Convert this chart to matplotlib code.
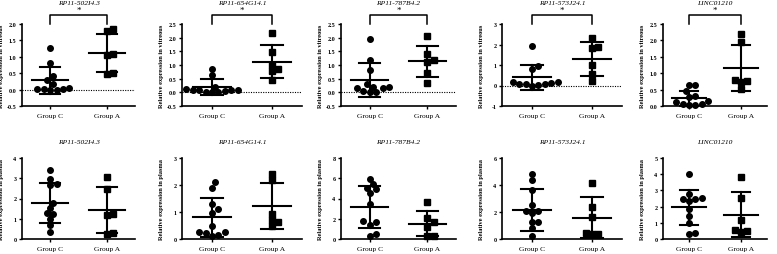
import numpy as np
import matplotlib
matplotlib.use("Agg")
import matplotlib.pyplot as plt

plt.rcParams['font.family'] = ['Liberation Serif', 'DejaVu Serif']

genes = ["RP11-502I4.3", "RP11-654G14.1", "RP11-787B4.2", "RP11-573J24.1", "LINC01210"]
groups = ["Group C", "Group A"]

# vitreous (top row)
vit_c = [
    [1.28, 0.8, 0.4, 0.3, 0.17, 0.03, 0.02, 0.0, 0.0, 0.02, 0.05],
    [0.85, 0.62, 0.2, 0.1, 0.08, 0.05, 0.02, 0.0, 0.0, 0.07, 0.1, 0.12],
    [1.95, 1.2, 0.82, 0.32, 0.2, 0.15, 0.15, 0.05, 0.02, 0.0, 0.18],
    [1.95, 0.95, 0.82, 0.15, 0.08, 0.05, 0.02, 0.0, 0.05, 0.1, 0.18],
    [0.65, 0.65, 0.45, 0.32, 0.28, 0.15, 0.12, 0.05, 0.03, 0.02, 0.05],
]
vit_a = [
    [1.85, 1.8, 1.08, 1.07, 0.5, 0.47],
    [2.17, 1.48, 1.0, 0.87, 0.78, 0.45],
    [2.05, 1.4, 1.2, 1.1, 0.7, 0.35],
    [2.3, 1.9, 1.85, 1.0, 0.55, 0.22],
    [2.2, 1.95, 0.78, 0.75, 0.73, 0.53],
]
vit_c_mean = [0.28, 0.2, 0.46, 0.4, 0.23]
vit_c_sd = [0.42, 0.28, 0.62, 0.6, 0.24]
vit_a_mean = [1.13, 1.12, 1.13, 1.3, 1.16]
vit_a_sd = [0.58, 0.61, 0.58, 0.83, 0.71]
vit_ylim = [(-0.5, 2.0), (-0.5, 2.5), (-0.5, 2.5), (-1, 3), (0, 2.5)]
vit_ticks = [np.arange(-0.5, 2.01, 0.5), np.arange(-0.5, 2.51, 0.5),
             np.arange(-0.5, 2.51, 0.5), [-1, 0, 1, 2, 3], np.arange(0, 2.51, 0.5)]

# plasma (bottom row)
pla_c = [
    [3.4, 2.95, 2.7, 2.65, 1.8, 1.55, 1.28, 1.25, 1.0, 0.7, 0.35],
    [2.1, 1.9, 1.3, 1.1, 0.95, 0.5, 0.25, 0.22, 0.15, 0.12, 0.25],
    [5.9, 5.4, 5.0, 4.9, 4.5, 3.5, 1.8, 1.7, 1.4, 0.45, 0.3],
    [4.85, 4.35, 3.6, 2.5, 2.1, 2.05, 1.9, 1.25, 1.25, 0.8, 0.25],
    [4.0, 2.75, 2.55, 2.5, 2.45, 2.35, 1.85, 1.4, 1.0, 0.35, 0.3],
]
pla_a = [
    [3.05, 2.45, 1.25, 1.2, 0.3, 0.25],
    [2.42, 2.2, 0.92, 0.7, 0.63, 0.47],
    [3.7, 2.1, 1.65, 1.2, 0.3, 0.25],
    [4.15, 2.4, 1.6, 0.45, 0.4, 0.4],
    [3.85, 2.55, 1.2, 0.55, 0.5, 0.45],
]
pla_c_mean = [1.78, 0.8, 3.17, 2.15, 1.96]
pla_c_sd = [1.0, 0.72, 2.05, 1.55, 1.08]
pla_a_mean = [1.42, 1.22, 1.53, 1.58, 1.5]
pla_a_sd = [1.14, 0.85, 1.28, 1.5, 1.4]
pla_ylim = [(0, 4), (0, 3), (0, 8), (0, 6), (0, 5)]
pla_ticks = [[0, 1, 2, 3, 4], [0, 1, 2, 3], [0, 2, 4, 6, 8], [0, 2, 4, 6], [0, 1, 2, 3, 4, 5]]

W, H = 777, 255
fig = plt.figure(figsize=(W / 100, H / 100), dpi=100)

lefts = [22, 182, 341, 502, 663]
rights = [135, 302, 456, 622, 767]
rows = [(25, 107), (159, 240)]
MS = 5.8  # marker size in px, for the swarm spacing


def swarm(vals, ax_h_px, yr, px_per_x):
    # simple beeswarm: offset points that would overlap
    vals = np.asarray(vals, float)
    order = np.argsort(vals)
    placed = []
    xs = np.zeros(len(vals))
    for i in order:
        ypx = (vals[i] - yr[0]) / (yr[1] - yr[0]) * ax_h_px
        k = 0
        while True:
            cand = [0] if k == 0 else [k, -k]
            ok = None
            for c in cand:
                xpx = c * MS * 0.55
                if all((xpx - px) ** 2 + (ypx - py) ** 2 >= MS ** 2 for px, py in placed):
                    ok = xpx
                    break
            if ok is not None:
                placed.append((ok, ypx))
                xs[i] = ok / px_per_x
                break
            k += 1
    return xs


def draw(ax, cvals, avals, means, sds, ylim, ticks, ylabel, ax_h, ax_w, sig):
    px_per_x = ax_w / 2.0
    for g, (vals, mk) in enumerate([(cvals, 'o'), (avals, 's')]):
        xs = g + swarm(vals, ax_h, ylim, px_per_x)
        ax.plot(xs, vals, linestyle='none', marker=mk, color='black',
                markersize=4.0 if mk == 'o' else 3.7, clip_on=False, zorder=3)
        m, s = means[g], sds[g]
        ax.plot([g - 0.32, g + 0.32], [m, m], color='black', lw=1.5, clip_on=False)
        ax.plot([g - 0.18, g + 0.18], [m + s, m + s], color='black', lw=1.5, clip_on=False)
        ax.plot([g - 0.18, g + 0.18], [m - s, m - s], color='black', lw=1.5, clip_on=False)
        ax.plot([g, g], [m - s, m + s], color='black', lw=1.5, clip_on=False)
    if ylim[0] < 0:
        ax.axhline(0, color='black', lw=0.8, linestyle=(0, (1, 1.2)))
    ax.set_xlim(-0.5, 1.5)
    ax.set_ylim(*ylim)
    ax.set_yticks(ticks)
    ax.set_yticklabels([('%g' % t) if isinstance(t, (int, np.integer)) else ('%.1f' % t) for t in ticks],
                       fontsize=4.4, fontweight='bold')
    ax.set_xticks([0, 1])
    ax.set_xticklabels(groups, fontsize=5.4)
    ax.tick_params(axis='both', length=2.5, width=1.0, pad=1.5)
    ax.tick_params(axis='x', pad=2.5)
    for sp in ['top', 'right']:
        ax.spines[sp].set_visible(False)
    for sp in ['left', 'bottom']:
        ax.spines[sp].set_linewidth(1.2)
    ax.set_ylabel(ylabel, fontsize=4.6, fontweight='bold')
    ax.yaxis.set_label_coords(-18 / ax_w, 0.5)
    if sig:
        yb = 1 + 9 / ax_h
        ax.plot([0, 0, 1, 1], [1.0, yb, yb, 1.0], color='black', lw=1.1,
                transform=ax.get_xaxis_transform(), clip_on=False)
        ax.text(0.5, yb + 0.01, '*', transform=ax.get_xaxis_transform(),
                ha='center', va='bottom', fontsize=6.5)


for r, (top, bot) in enumerate(rows):
    for i in range(5):
        l, rr = lefts[i], rights[i]
        ax_w, ax_h = rr - l, bot - top
        ax = fig.add_axes([l / W, 1 - bot / H, ax_w / W, ax_h / H])
        if r == 0:
            draw(ax, vit_c[i], vit_a[i], [vit_c_mean[i], vit_a_mean[i]],
                 [vit_c_sd[i], vit_a_sd[i]], vit_ylim[i], vit_ticks[i],
                 "Relative expression in vitreous", ax_h, ax_w, True)
            fig.text((l + rr) / 2 / W, 1 - 4 / H, genes[i], ha='center', va='center',
                     fontsize=5.4, style='italic')
        else:
            draw(ax, pla_c[i], pla_a[i], [pla_c_mean[i], pla_a_mean[i]],
                 [pla_c_sd[i], pla_a_sd[i]], pla_ylim[i], pla_ticks[i],
                 "Relative expression in plasma", ax_h, ax_w, False)
            fig.text((l + rr) / 2 / W, 1 - 143 / H, genes[i], ha='center', va='center',
                     fontsize=5.4, style='italic')

fig.savefig("out.png", dpi=100)
